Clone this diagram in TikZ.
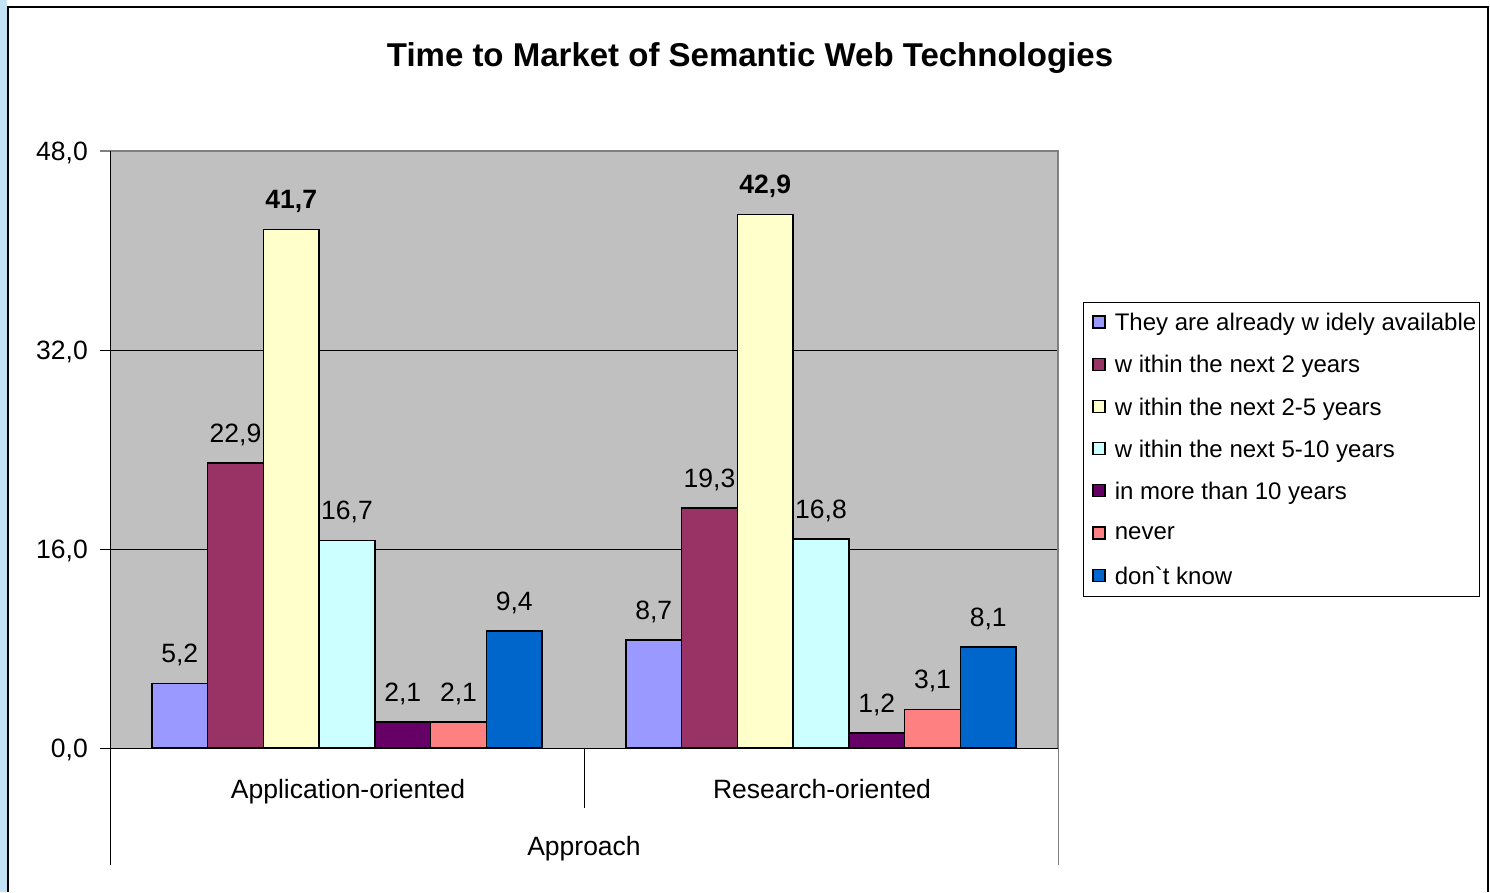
\documentclass[tikz,border=0pt]{standalone}
\usepackage{fontspec}
\setmainfont{Liberation Sans}
\usetikzlibrary{positioning}
\definecolor{plotgray}{HTML}{C0C0C0}
\definecolor{framegray}{HTML}{808080}
\definecolor{stripblue}{HTML}{C4E2F6}
\definecolor{barperi}{HTML}{9999FF}
\definecolor{barplum}{HTML}{993366}
\definecolor{barivory}{HTML}{FFFFCC}
\definecolor{barturq}{HTML}{CCFFFF}
\definecolor{barpurple}{HTML}{660066}
\definecolor{barcoral}{HTML}{FF8080}
\definecolor{barocean}{HTML}{0066CC}
\begin{document}
\begin{tikzpicture}[x=1pt,y=-1pt,
    lbl/.style={inner sep=0pt,text depth=0pt,font=\fontsize{26.5}{30}\selectfont},
    leg/.style={lbl,font=\fontsize{24}{28}\selectfont},
    topval/.style={lbl,yshift=30pt,font=\bfseries\fontsize{26.5}{30}\selectfont},
    barbox/.style={draw=black,line width=1.6pt},
    swatch/.style={draw=black,line width=1.2pt,minimum size=12pt,inner sep=0pt}]
      \useasboundingbox (0,0) rectangle (1490,892);
      \fill[stripblue] (0,0) rectangle (7,892);
      \draw[line width=1.5pt] (8,892) -- (8,7) -- (1488,7) -- (1488,892);
      \node[lbl,font=\bfseries\fontsize{33}{38}\selectfont] (title) at (750,55)
        {Time to Market of Semantic Web Technologies};
      \fill[plotgray] (110,151) rectangle (1058,748);
      \begin{scope}[line width=0.8pt]
        \draw (110,350) -- (1058,350);
        \draw (110,549) -- (1058,549);
        \draw (100,350) -- (110,350);
        \draw (100,549) -- (110,549);
        \draw (100,748) -- (110,748);
      \end{scope}
      \draw[framegray,line width=2pt] (100,151) -- (1058,151) -- (1058,748);
      \draw[framegray,line width=1pt] (1058,748) -- (1058,865);
      \begin{scope}[line width=1pt]
        \draw (110,151) -- (110,865);
        \draw (584,748) -- (584,808);
      \end{scope}
      \draw
        (88,151) node[lbl,anchor=east] (y48){48,0}
        (88,350) node[lbl,anchor=east] (y32){32,0}
        (88,549) node[lbl,anchor=east] (y16){16,0}
        (88,748) node[lbl,anchor=east] (y0){0,0};
      \begin{scope}[shift={(0,748)},y=12.4375pt]
        \filldraw[barbox,fill=barperi] (151.8,0) rectangle (207.6,5.2);
        \filldraw[barbox,fill=barplum] (207.6,0) rectangle (263.3,22.9);
        \filldraw[barbox,fill=barivory] (263.3,0) rectangle (319.1,41.7);
        \filldraw[barbox,fill=barturq] (319.1,0) rectangle (374.9,16.7);
        \filldraw[barbox,fill=barpurple] (374.9,0) rectangle (430.6,2.1);
        \filldraw[barbox,fill=barcoral] (430.6,0) rectangle (486.4,2.1);
        \filldraw[barbox,fill=barocean] (486.4,0) rectangle (542.2,9.4);
        \filldraw[barbox,fill=barperi] (625.8,0) rectangle (681.6,8.7);
        \filldraw[barbox,fill=barplum] (681.6,0) rectangle (737.3,19.3);
        \filldraw[barbox,fill=barivory] (737.3,0) rectangle (793.1,42.9);
        \filldraw[barbox,fill=barturq] (793.1,0) rectangle (848.9,16.8);
        \filldraw[barbox,fill=barpurple] (848.9,0) rectangle (904.6,1.2);
        \filldraw[barbox,fill=barcoral] (904.6,0) rectangle (960.4,3.1);
        \filldraw[barbox,fill=barocean] (960.4,0) rectangle (1016.2,8.1);
        \draw[line width=1pt] (110,0) -- (1058,0);
        \draw
          (179.7,5.2) node[lbl,yshift=30pt] (a1){5,2}
          (235.5,22.9) node[lbl,yshift=30pt] (a2){22,9}
          (291.2,41.7) node[topval] (a3){41,7}
          (347.0,16.7) node[lbl,yshift=30pt] (a4){16,7}
          (402.8,2.1) node[lbl,yshift=30pt] (a5){2,1}
          (458.5,2.1) node[lbl,yshift=30pt] (a6){2,1}
          (514.3,9.4) node[lbl,yshift=30pt] (a7){9,4}
          (653.7,8.7) node[lbl,yshift=30pt] (r1){8,7}
          (709.5,19.3) node[lbl,yshift=30pt] (r2){19,3}
          (765.2,42.9) node[topval] (r3){42,9}
          (821.0,16.8) node[lbl,yshift=30pt] (r4){16,8}
          (876.8,1.2) node[lbl,yshift=30pt] (r5){1,2}
          (932.5,3.1) node[lbl,yshift=30pt] (r6){3,1}
          (988.3,8.1) node[lbl,yshift=30pt] (r7){8,1};
      \end{scope}
      \node[lbl] (appl) at (348,789) {Application-oriented};
      \node[lbl] (res) at (822,789) {Research-oriented};
      \node[lbl] (appr) at (584,846) {Approach};
      \draw[line width=1pt] (1083,302) rectangle (1479,596);
      \draw
        (1099,322) node[swatch,fill=barperi] (s1){}
        (1099,364.2) node[swatch,fill=barplum] (s2){}
        (1099,406.4) node[swatch,fill=barivory] (s3){}
        (1099,448.6) node[swatch,fill=barturq] (s4){}
        (1099,490.8) node[swatch,fill=barpurple] (s5){}
        (1099,533) node[swatch,fill=barcoral] (s6){}
        (1099,575.2) node[swatch,fill=barocean] (s7){};
      \node[leg,right=9pt of s1] (t1) {They are already w idely available};
      \node[leg,right=9pt of s2] (t2) {w ithin the next 2 years};
      \node[leg,right=9pt of s3] (t3) {w ithin the next 2-5 years};
      \node[leg,right=9pt of s4] (t4) {w ithin the next 5-10 years};
      \node[leg,right=9pt of s5] (t5) {in more than 10 years};
      \node[leg,right=9pt of s6] (t6) {never};
      \node[leg,right=9pt of s7] (t7) {don\textasciigrave t know};
    \end{tikzpicture}
\end{document}
